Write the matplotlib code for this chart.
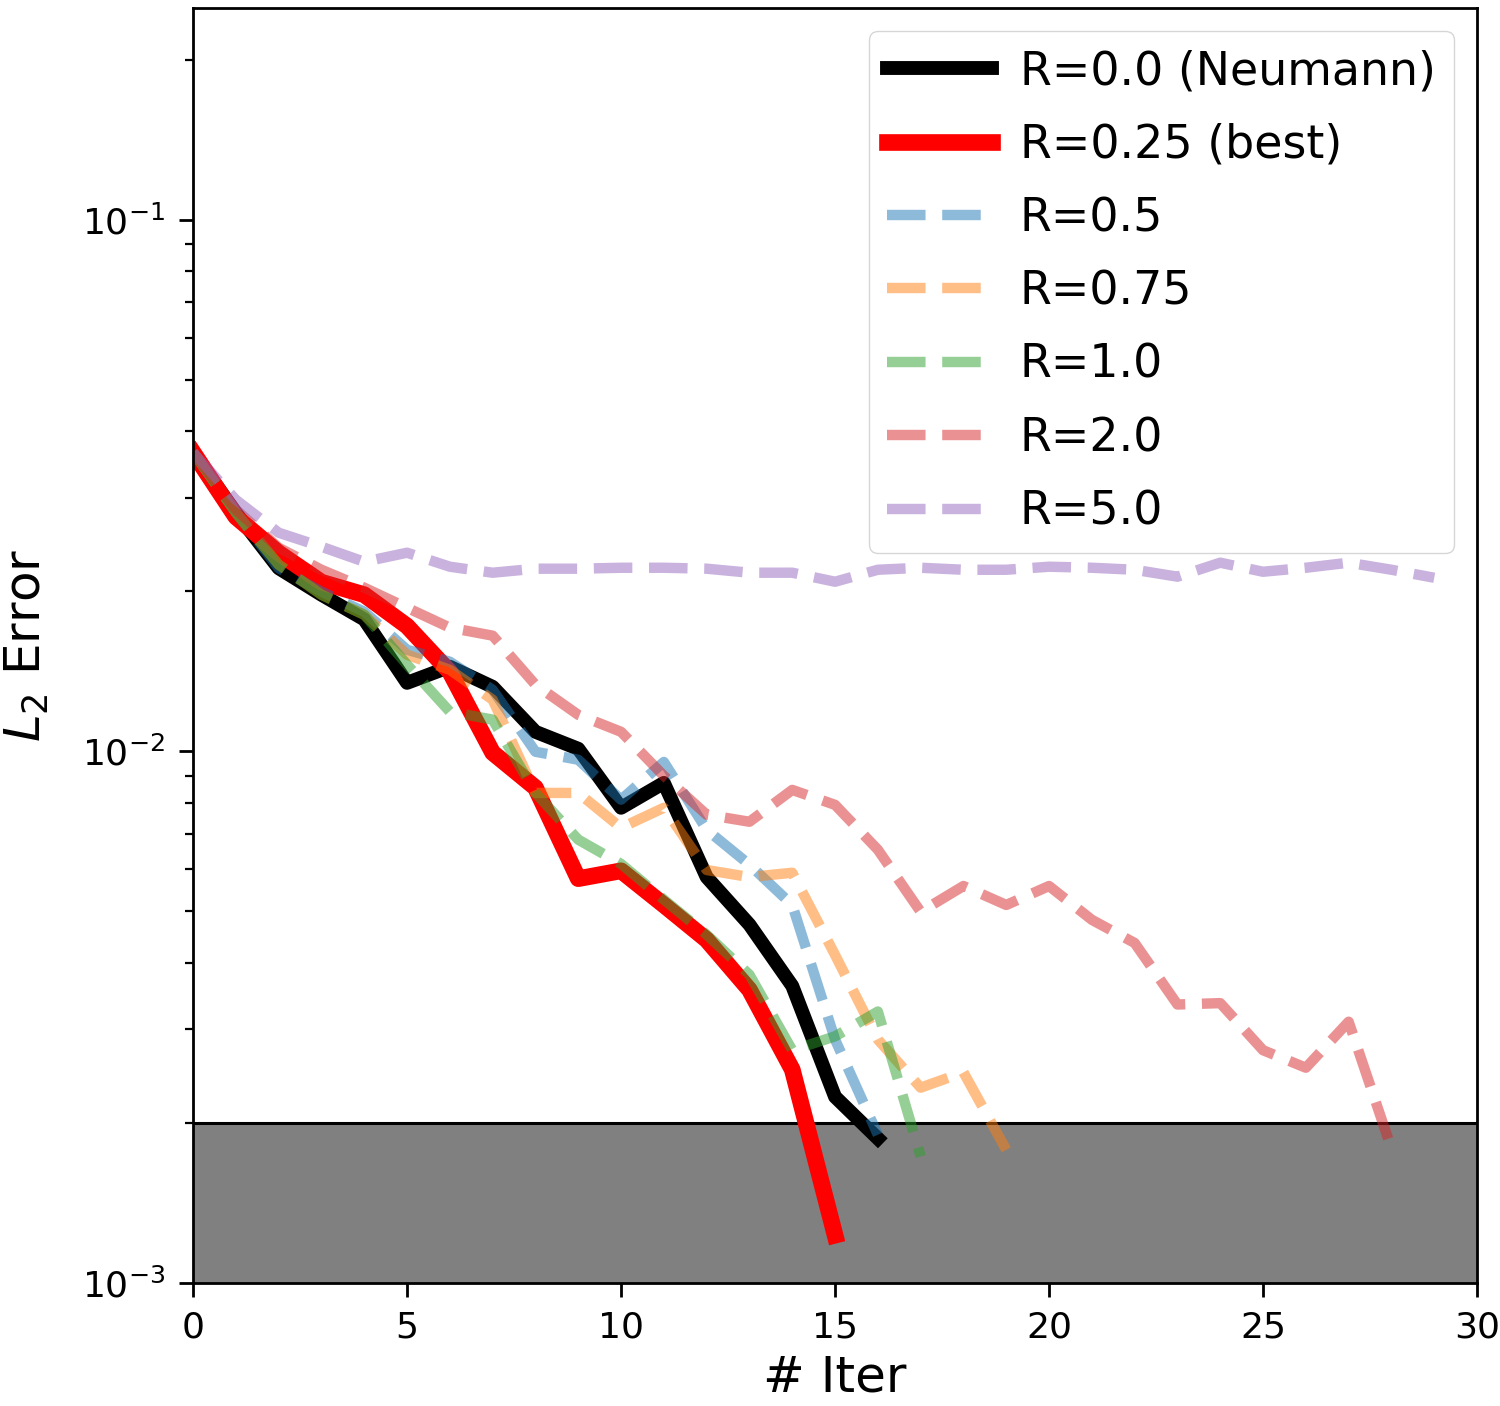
import numpy as np
import matplotlib
matplotlib.use("Agg")
import matplotlib.pyplot as plt

# L2 error per iteration
err_r000 = [0.0365, 0.0281, 0.0221, 0.0197, 0.0177, 0.01345, 0.01442, 0.01322, 0.01088,
            0.01011, 0.00783, 0.00872, 0.00580, 0.00472, 0.00362, 0.00224, 0.00187]
err_r025 = [0.0365, 0.0276, 0.0236, 0.0208, 0.0197, 0.0172, 0.0141, 0.00994, 0.00854,
            0.00576, 0.00596, 0.00514, 0.00442, 0.00356, 0.00252, 0.00123]
err_r050 = [0.0365, 0.0281, 0.0221, 0.01996, 0.0183, 0.01552, 0.01474, 0.01305, 0.00998,
            0.00964, 0.00811, 0.00955, 0.00712, 0.00612, 0.00514, 0.00287, 0.00190]
err_r075 = [0.0365, 0.0281, 0.02244, 0.0197, 0.01806, 0.01519, 0.01423, 0.0125, 0.00835,
            0.00835, 0.00718, 0.00783, 0.00598, 0.0058, 0.00591, 0.00414, 0.00287,
            0.00233, 0.00249, 0.00178]
err_r100 = [0.0365, 0.0281, 0.02244, 0.0197, 0.01806, 0.01455, 0.01187, 0.01147, 0.00835,
            0.00682, 0.00614, 0.00526, 0.00452, 0.0038, 0.00274, 0.00291, 0.00324, 0.00173]
err_r200 = [0.0365, 0.02848, 0.02415, 0.02195, 0.02031, 0.01862, 0.01708, 0.0165, 0.01334,
            0.01171, 0.01088, 0.00899, 0.0076, 0.00737, 0.00846, 0.00793, 0.00653, 0.00499,
            0.00558, 0.00514, 0.00558, 0.00482, 0.00436, 0.00334, 0.00336, 0.00274, 0.00254,
            0.0031, 0.00179]
err_r500 = [0.0365, 0.02972, 0.02577, 0.02425, 0.02272, 0.02363, 0.02224, 0.02167, 0.02205,
            0.02205, 0.02214, 0.02214, 0.02205, 0.02167, 0.02167, 0.02084, 0.02195, 0.02214,
            0.02195, 0.02195, 0.02224, 0.02214, 0.02195, 0.0213, 0.02263, 0.02176, 0.02214,
            0.02263, 0.02195, 0.0212]

tol = 2e-3

fig = plt.figure(figsize=(15, 14.06), dpi=100)
ax = fig.add_axes([0.1287, 0.0875, 0.856, 0.9068])

ax.axhspan(1e-3, tol, color='gray', zorder=1)
ax.axhline(tol, color='k', lw=2.2, zorder=1.5)

def it(e):
    return np.arange(len(e))

ax.plot(it(err_r000), err_r000, color='k', lw=10, label="R=0.0 (Neumann)", zorder=2)
ax.plot(it(err_r025), err_r025, color='red', lw=12, label="R=0.25 (best)", zorder=2)
dashed = [("R=0.5", err_r050, 'tab:blue'),
          ("R=0.75", err_r075, 'tab:orange'),
          ("R=1.0", err_r100, 'tab:green'),
          ("R=2.0", err_r200, 'tab:red'),
          ("R=5.0", err_r500, 'tab:purple')]
for lab, e, c in dashed:
    ax.plot(it(e), e, '--', color=c, lw=7.5, alpha=0.5, label=lab, zorder=2)

ax.set_yscale('log')
ax.set_xlim(0, 30)
ax.set_ylim(1e-3, 0.25)

ax.set_xlabel("# Iter", fontsize=36, labelpad=6)
ax.set_ylabel("$L_2$ Error", fontsize=36, labelpad=22)
ax.tick_params(which='major', labelsize=26, length=10, width=2, pad=10)
ax.tick_params(which='minor', length=6, width=1.6)
for s in ax.spines.values():
    s.set_linewidth(2)

ax.legend(loc='upper right', fontsize=33, handlelength=2.3, labelspacing=0.62,
          handletextpad=0.6)

fig.savefig("out.png", dpi=100)
